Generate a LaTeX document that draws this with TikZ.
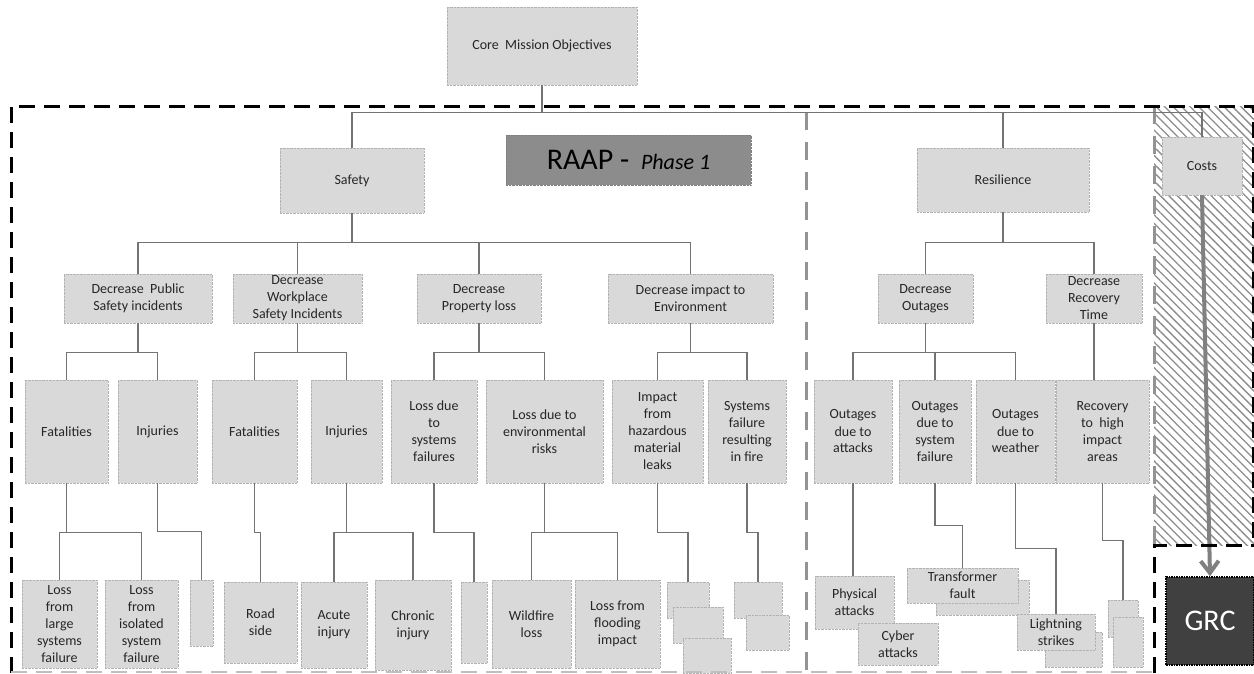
\documentclass[tikz,border=0pt]{standalone}
\usepackage{fontspec}
\setmainfont{Carlito}
\usetikzlibrary{arrows.meta,patterns.meta}

\begin{document}
\begin{tikzpicture}[x=1pt,y=-1pt,
        box/.style={fill=gray!30, draw=gray!60, densely dotted, text=black!85, align=center, inner sep=1pt, font=\fontsize{14}{17}\selectfont},
        conn/.style={draw=gray!90!black, line width=1.4pt, solid},
        bigdash/.style={draw=black, line width=3pt, dash pattern=on 16pt off 9pt},
        sepdash/.style={draw=gray!85, line width=3pt, dash pattern=on 18pt off 12pt}]
        \useasboundingbox (0,0) rectangle (1254,673);
        % costs column and separators
        \fill[pattern={Lines[angle=-45,distance=6pt,line width=1.3pt]}, pattern color=gray!90] (1154,106) rectangle (1254,545);
        \draw[sepdash] (806,112) -- (806,673);
        \draw[sepdash] (1154,106) -- (1154,545);

        % top levels
        \node[box, minimum width=190pt, minimum height=78pt] (core) at (542,46) {Core~ Mission Objectives};
        \node[box, fill=black!45, draw=black!50, text=black, minimum width=245pt, minimum height=50pt, font=\fontsize{30}{32}\selectfont] (raap) at (628.5,160) {RAAP - {\fontsize{22}{24}\selectfont\itshape ~Phase 1}};
        \node[box, minimum width=144pt, minimum height=65pt] (saf) at (352,180.5) {Safety};
        \node[box, minimum width=172pt, minimum height=64pt] (res) at (1003,180) {Resilience};
        \node[box, minimum width=80pt, minimum height=58pt] (cost) at (1202,166) {Costs};
        \node[box, fill=black!75, draw=black, line width=1.5pt, text=white, minimum width=88pt, minimum height=88pt, font=\fontsize{30}{32}\selectfont] (grc) at (1210,621) {GRC};

        \node[box, minimum width=148pt, minimum height=49pt] (dps) at (138,298.5) {Decrease~ Public\\Safety incidents};
        \node[box, minimum width=129pt, minimum height=49pt] (dws) at (297.5,298.5) {Decrease\\Workplace\\Safety Incidents};
        \node[box, minimum width=124pt, minimum height=49pt] (dpl) at (479,298.5) {Decrease\\Property loss};
        \node[box, minimum width=165pt, minimum height=49pt] (die) at (690.5,298.5) {Decrease impact to\\Environment};
        \node[box, minimum width=95pt, minimum height=49pt] (dou) at (925.5,298.5) {Decrease\\Outages};
        \node[box, minimum width=96pt, minimum height=49pt] (drt) at (1094,298.5) {Decrease\\Recovery\\Time};

        % third level
        \node[box, minimum width=83pt, minimum height=103pt] (fat1) at (66.5,431.5) {Fatalities};
        \node[box, minimum width=79pt, minimum height=103pt] (inj1) at (157.5,431.5) {Injuries};
        \node[box, minimum width=85pt, minimum height=103pt] (fat2) at (254.5,431.5) {Fatalities};
        \node[box, minimum width=71pt, minimum height=103pt] (inj2) at (346.5,431.5) {Injuries};
        \node[box, minimum width=86pt, minimum height=103pt] (lsf) at (434,431.5) {Loss due\\to\\systems\\failures};
        \node[box, minimum width=117pt, minimum height=103pt] (ler) at (544.5,431.5) {Loss due to\\environmental\\risks};
        \node[box, minimum width=91pt, minimum height=103pt] (ihm) at (657.5,431.5) {Impact\\from\\hazardous\\material\\leaks};
        \node[box, minimum width=78pt, minimum height=103pt] (sfr) at (747,431.5) {Systems\\failure\\resulting\\in fire};
        \node[box, minimum width=78pt, minimum height=103pt] (oat) at (853,431.5) {Outages\\due to\\attacks};
        \node[box, minimum width=72pt, minimum height=103pt] (osf) at (935,431.5) {Outages\\due to\\system\\failure};
        \node[box, minimum width=79pt, minimum height=103pt] (owe) at (1015.5,431.5) {Outages\\due to\\weather};
        \node[box, minimum width=93pt, minimum height=103pt] (rha) at (1102.5,431.5) {Recovery\\to~ high\\impact\\areas};

        % fourth level
        \node[box, minimum width=75pt, minimum height=88pt] (llf) at (59.5,624) {Loss\\from\\large\\systems\\failure};
        \node[box, minimum width=73pt, minimum height=88pt] (lif) at (141.5,624) {Loss\\from\\isolated\\system\\failure};
        \node[box, minimum width=23pt, minimum height=66pt] (bla) at (201.5,613) {};
        \node[box, minimum width=73pt, minimum height=81pt] (road) at (260.5,622.5) {Road\\side};
        \node[box, minimum width=66pt, minimum height=86pt] (acu) at (334,625) {Acute\\injury};
        \node[box, minimum width=76pt, minimum height=90pt] (chr) at (413,625) {Chronic\\injury};
        \node[box, minimum width=26pt, minimum height=81pt] (blb) at (474,622.5) {};
        \node[box, minimum width=79pt, minimum height=88pt] (wil) at (531.5,624) {Wildfire\\loss};
        \node[box, minimum width=85pt, minimum height=88pt] (flo) at (617.5,624) {Loss from\\flooding\\impact};
        \node[box, minimum width=42pt, minimum height=36pt] (ihmA) at (688,600) {};
        \node[box, minimum width=50pt, minimum height=36pt] (ihmB) at (698,625) {};
        \node[box, minimum width=48pt, minimum height=35pt] (ihmC) at (707,655.5) {};
        \node[box, minimum width=48pt, minimum height=36pt] (sfrA) at (758,600) {};
        \node[box, minimum width=43pt, minimum height=35pt] (sfrB) at (767.5,632.5) {};
        \node[box, minimum width=79pt, minimum height=53pt] (phy) at (854.5,602.5) {Physical\\attacks};
        \node[box, minimum width=80pt, minimum height=42pt] (cyb) at (898,644) {Cyber\\attacks};
        \node[box, minimum width=93pt, minimum height=35pt] (traB) at (982.5,597.5) {};
        \node[box, minimum width=111pt, minimum height=35pt] (tra) at (962.5,585.5) {Transformer\\fault};
        \node[box, minimum width=57pt, minimum height=35pt] (ligB) at (1073.5,649.5) {};
        \node[box, minimum width=78pt, minimum height=36pt] (lig) at (1056,632) {Lightning\\strikes};
        \node[box, minimum width=30pt, minimum height=37pt] (recA) at (1123,618.5) {};
        \node[box, minimum width=30pt, minimum height=50pt] (recB) at (1128,642) {};

        % connectors
        \draw[conn] (core.south) -- ++(0,27) coordinate (t0) -| (saf.north) (t0) -| (res.north) (t0) -| (cost.north);
        \draw[conn] (saf.south) -- ++(0,29) coordinate (t1) -| (dps.north) (t1) -| (dws.north) (t1) -| (dpl.north) (t1) -| (die.north);
        \draw[conn] (res.south) -- ++(0,30) coordinate (t2) -| (dou.north) (t2) -| (drt.north);
        \draw[conn] (dps.south) -- ++(0,29) coordinate (t3) -| (fat1.north) (t3) -| (inj1.north);
        \draw[conn] (dws.south) -- ++(0,29) coordinate (t4) -| (fat2.north) (t4) -| (inj2.north);
        \draw[conn] (dpl.south) -- ++(0,29) coordinate (t5) -| (lsf.north) (t5) -| (ler.north);
        \draw[conn] (die.south) -- ++(0,29) coordinate (t6) -| (ihm.north) (t6) -| (sfr.north);
        \draw[conn] (dou.south) -- ++(0,29) coordinate (t7) -| (oat.north) (t7) -| (osf.north) (t7) -| (owe.north);
        \draw[conn] (drt.south) -- (drt.south |- rha.north);
        \draw[conn] (fat1.south) -- ++(0,49) coordinate (t8) -| (llf.north) (t8) -| (lif.north);
        \draw[conn] (inj1.south) -- ++(0,48) -| (bla.north);
        \draw[conn] (fat2.south) -- ++(0,49) -| (road.north);
        \draw[conn] (inj2.south) -- ++(0,49) coordinate (t9) -| (acu.north) (t9) -| (chr.north);
        \draw[conn] (lsf.south) -- ++(0,49) -| (blb.north);
        \draw[conn] (ler.south) -- ++(0,49) coordinate (t10) -| (wil.north) (t10) -| (flo.north);
        \draw[conn] (ihm.south) -- ++(0,49) -| (ihmA.north);
        \draw[conn] (sfr.south) -- ++(0,49) -| (sfrA.north);
        \draw[conn] (oat.south) -- (oat.south |- phy.north);
        \draw[conn] (osf.south) -- ++(0,42) -| (tra.north);
        \draw[conn] (owe.south) -- ++(0,65) -| (lig.north);
        \draw[conn] (rha.south) -- ++(0,57) -| (recA.north);
        \draw[draw=gray, line width=4pt, -{Straight Barb[length=12pt,width=18pt]}] (cost.south) -- (grc.north);

        % dashed frames
        \draw[bigdash] (11,673) -- (11,106) -- (1253,106) -- (1253,545);
        \draw[bigdash] (1154,673) -- (1154,545) -- (1254,545);
        \draw[draw=gray!50, line width=1.5pt, dash pattern=on 16pt off 9pt] (11,672) -- (1154,672);
    \end{tikzpicture}
\end{document}
